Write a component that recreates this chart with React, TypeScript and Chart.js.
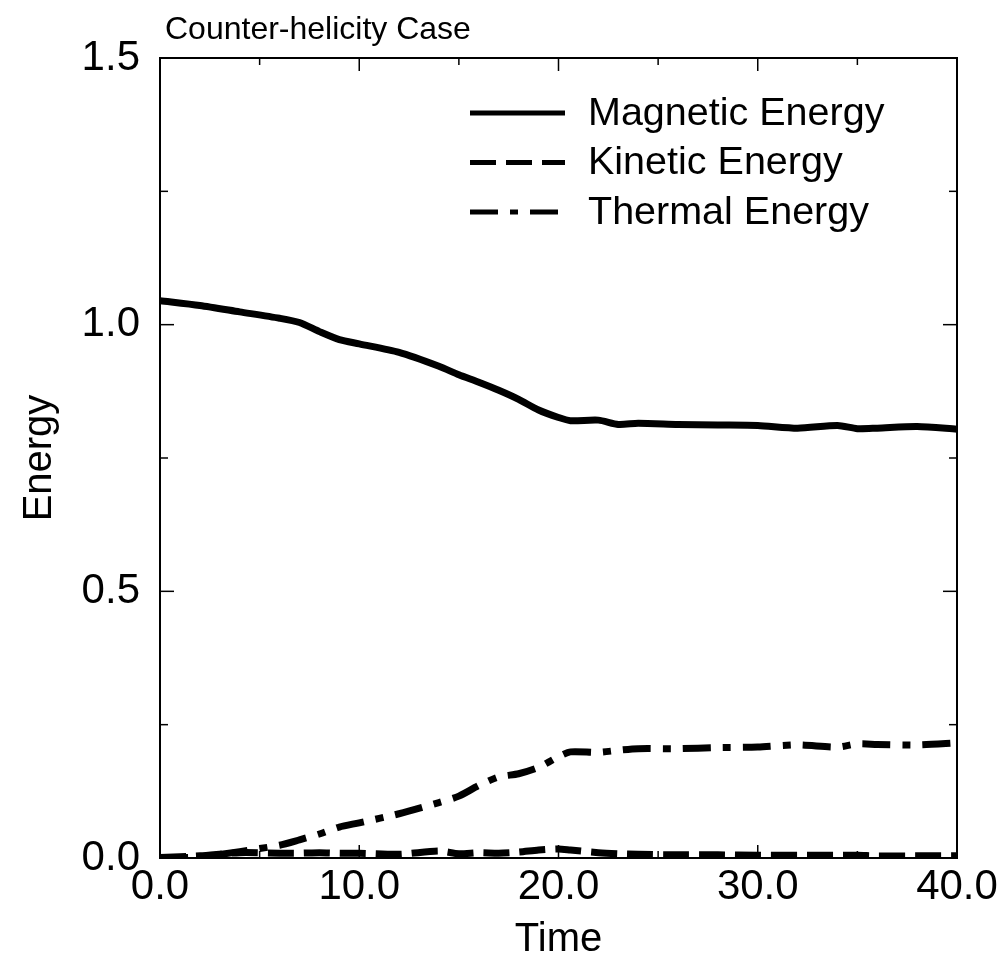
import { useEffect, useRef } from 'react';
import { Chart, registerables } from 'chart.js';

Chart.register(...registerables);

const FONT = '"Liberation Sans", Arial, Helvetica, sans-serif';

const chartTitle = 'Counter-helicity Case';
const xAxisTitle = 'Time';
const yAxisTitle = 'Energy';
const seriesLabels = ['Magnetic Energy', 'Kinetic Energy', 'Thermal Energy'];

const time = [0, 2, 4, 6, 7, 8, 9, 10, 12, 14, 15, 16, 17, 18, 19, 20, 20.6, 22, 23, 24, 26, 28, 30, 32, 34, 35, 36, 38, 40];
const magnetic = [1.045, 1.036, 1.024, 1.012, 1.004, 0.987, 0.972, 0.964, 0.948, 0.922, 0.906, 0.892, 0.877, 0.86, 0.84, 0.826, 0.82, 0.821, 0.813, 0.815, 0.813, 0.812, 0.811, 0.806, 0.811, 0.805, 0.806, 0.809, 0.804];
const kinetic = [0.001, 0.004, 0.01, 0.009, 0.009, 0.01, 0.009, 0.009, 0.007, 0.013, 0.008, 0.01, 0.009, 0.011, 0.015, 0.017, 0.015, 0.01, 0.008, 0.007, 0.006, 0.006, 0.005, 0.005, 0.005, 0.005, 0.004, 0.004, 0.004];
const thermal = [0.0, 0.002, 0.012, 0.024, 0.034, 0.045, 0.058, 0.066, 0.083, 0.104, 0.116, 0.136, 0.152, 0.158, 0.17, 0.19, 0.199, 0.198, 0.202, 0.205, 0.205, 0.207, 0.208, 0.212, 0.208, 0.214, 0.213, 0.212, 0.216];

const xMin = 0;
const xMax = 40;
const xMajorStep = 10;
const xMinorStep = 5;
const yMin = 0;
const yMax = 1.5;
const yMajorStep = 0.5;
const yMinorStep = 0.25;

const dashStyles: number[][] = [[], [26, 10], [28, 12, 8, 12]];

const framePlugin = {
  id: 'frameAndLegend',
  afterDraw(chart: any) {
    const { ctx, chartArea: a, scales } = chart;
    const xs = scales.x;
    const ys = scales.y;
    ctx.save();
    ctx.strokeStyle = '#000';
    ctx.fillStyle = '#000';
    ctx.setLineDash([]);
    ctx.lineWidth = 2;
    ctx.strokeRect(a.left, a.top, a.right - a.left, a.bottom - a.top);
    const seg = (x1: number, y1: number, x2: number, y2: number) => {
      ctx.beginPath();
      ctx.moveTo(x1, y1);
      ctx.lineTo(x2, y2);
      ctx.stroke();
    };
    ctx.lineWidth = 1.5;
    for (let v = xMin; v <= xMax + 1e-9; v += xMinorStep) {
      const px = xs.getPixelForValue(v);
      const len = Math.abs(v % xMajorStep) < 1e-9 ? 13 : 7;
      seg(px, a.bottom, px, a.bottom - len);
      seg(px, a.top, px, a.top + len);
    }
    for (let v = yMin; v <= yMax + 1e-9; v += yMinorStep) {
      const py = ys.getPixelForValue(v);
      const r = v / yMajorStep;
      const len = Math.abs(r - Math.round(r)) < 1e-9 ? 14 : 8;
      seg(a.left, py, a.left + len, py);
      seg(a.right, py, a.right - len, py);
    }
    // title
    ctx.font = `32px ${FONT}`;
    ctx.textAlign = 'left';
    ctx.textBaseline = 'alphabetic';
    ctx.fillText(chartTitle, a.left + 5, 39);
    // legend
    const lx1 = a.left + 310;
    const lx2 = a.left + 405;
    const tx = a.left + 428;
    chart.data.datasets.forEach((ds: any, i: number) => {
      const y = a.top + 55 + i * 49.5;
      ctx.lineWidth = 5;
      ctx.lineCap = 'butt';
      ctx.setLineDash(ds.borderDash || []);
      seg(lx1, y, lx2, y);
      ctx.setLineDash([]);
      ctx.font = `39.5px ${FONT}`;
      ctx.textBaseline = 'middle';
      ctx.fillText(ds.label, tx, y + 1);
    });
    ctx.restore();
  },
};

export default function App() {
  const ref = useRef<HTMLCanvasElement | null>(null);
  useEffect(() => {
    if (!ref.current) return;
    const series = [magnetic, kinetic, thermal];
    const chart = new Chart(ref.current, {
      type: 'line',
      data: {
        datasets: series.map((vals, i) => ({
          label: seriesLabels[i],
          data: time.map((t, j) => ({ x: t, y: vals[j] })),
          borderColor: '#000',
          backgroundColor: '#000',
          borderWidth: 7,
          borderDash: dashStyles[i],
          borderCapStyle: 'butt',
          pointRadius: 0,
          tension: 0.25,
          fill: false,
        })),
      },
      options: {
        animation: false,
        responsive: false,
        devicePixelRatio: 1,
        layout: { padding: { top: 58, right: 45, left: 0, bottom: 0 } },
        plugins: {
          legend: { display: false },
          tooltip: { enabled: false },
          title: { display: false },
        },
        scales: {
          x: {
            type: 'linear',
            min: xMin,
            max: xMax,
            grid: { display: false, drawTicks: false },
            border: { display: false },
            ticks: {
              stepSize: xMajorStep,
              autoSkip: false,
              maxRotation: 0,
              padding: 4,
              color: '#000',
              font: { family: FONT, size: 42 },
              callback: (v: any) => Number(v).toFixed(1),
            },
            title: {
              display: true,
              text: xAxisTitle,
              color: '#000',
              font: { family: FONT, size: 40 },
              padding: { top: 0, bottom: 2 },
            },
            afterFit: (s: any) => {
              s.height = 108;
            },
          },
          y: {
            type: 'linear',
            min: yMin,
            max: yMax,
            grid: { display: false, drawTicks: false },
            border: { display: false },
            ticks: {
              stepSize: yMajorStep,
              padding: 20,
              color: '#000',
              font: { family: FONT, size: 42 },
              callback: (v: any) => Number(v).toFixed(1),
            },
            title: {
              display: true,
              text: yAxisTitle,
              color: '#000',
              font: { family: FONT, size: 40 },
              padding: { top: 16, bottom: 0 },
            },
            afterFit: (s: any) => {
              s.width = 160;
            },
          },
        },
      },
      plugins: [framePlugin],
    });
    return () => chart.destroy();
  }, []);
  return (
    <div style={{ position: 'absolute', left: 0, top: 0, width: 1002, height: 966, background: '#fff' }}>
      <canvas ref={ref} width={1002} height={966} style={{ display: 'block' }} />
    </div>
  );
}
